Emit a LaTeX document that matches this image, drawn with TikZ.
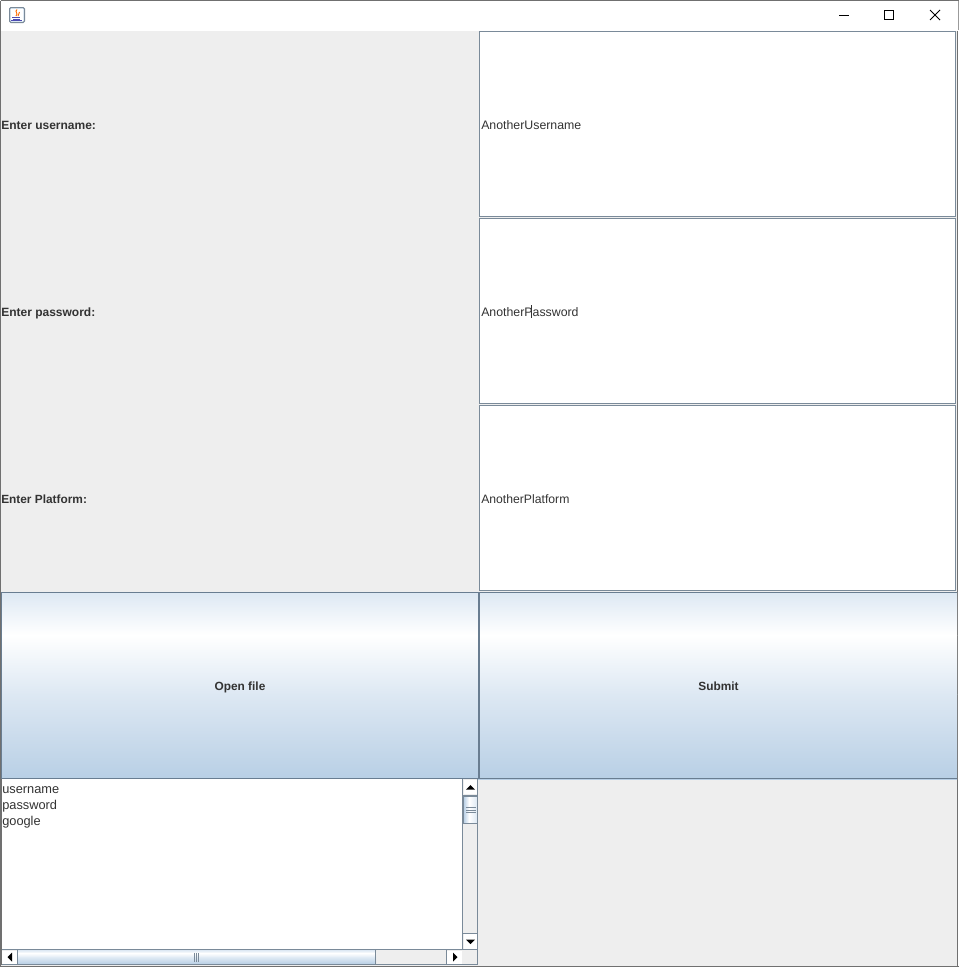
\documentclass[tikz,border=0pt]{standalone}
\usepackage{fontspec}
\setmainfont{Liberation Sans}
\definecolor{panelbg}{RGB}{238,238,238}
\definecolor{winedge}{RGB}{112,112,112}
\definecolor{fieldedge}{RGB}{122,138,153}
\definecolor{gradA}{RGB}{221,232,243}
\definecolor{gradC}{RGB}{184,207,229}
\definecolor{ink}{RGB}{51,51,51}
\definecolor{btnedge}{RGB}{105,125,145}
\definecolor{trackbg}{RGB}{238,238,238}
\tikzset{
  lab/.style={anchor=base west,inner sep=0pt,font=\fontsize{9}{11}\selectfont\bfseries,text=ink},
  val/.style={anchor=base west,inner sep=0pt,font=\fontsize{9.25}{11}\selectfont,text=ink},
  listval/.style={anchor=base west,inner sep=0pt,font=\fontsize{9.6}{11}\selectfont,text=ink},
  btnlab/.style={anchor=base,inner sep=0pt,font=\fontsize{8.9}{11}\selectfont\bfseries,text=ink},
  field/.style={draw=fieldedge,fill=white,line width=0.75pt},
  tip/.style={fill=black,draw=none},
  grip/.style={draw=fieldedge,line width=0.6pt},
  sbedge/.style={draw=fieldedge,line width=0.75pt},
}
\newcommand{\metalH}[4]{% x1,y1,x2,y2 vertical gradient
  \pgfmathsetmacro{\hh}{#4-(#2)}
  \pgfmathsetmacro{\ya}{#2+0.23*\hh}
  \pgfmathsetmacro{\yb}{#2+0.55*\hh}
  \fill[top color=gradA,bottom color=white] (#1,#2) rectangle (#3,\ya);
  \fill[top color=white,bottom color=gradA] (#1,\ya) rectangle (#3,\yb);
  \fill[top color=gradA,bottom color=gradC] (#1,\yb) rectangle (#3,#4);
}
\begin{document}
\begin{tikzpicture}[x=0.75pt,y=-0.75pt]
\useasboundingbox (0,0) rectangle (959,967);
% window
\fill[white] (0,0) rectangle (959,967);
\fill[panelbg] (1,31) rectangle (957,966);
\draw[winedge,line width=0.75pt] (0.5,0.5) -- (958.5,0.5);
\draw[winedge,line width=0.75pt] (0.5,0.5) -- (0.5,966.5) -- (958.5,966.5);
\draw[winedge,line width=0.75pt] (957.5,31) -- (957.5,966.5);
\draw[winedge!70,line width=0.75pt] (958.5,0.5) -- (958.5,30);
% title bar icon
\draw[fill=gradA,draw=fieldedge,rounded corners=1pt,line width=0.75pt] (9.5,7.5) rectangle (24.5,22.5);
\fill[white] (11,9) rectangle (23,21);
\draw[orange!85!red,line width=0.7pt] (17,9.5) .. controls (14,12) and (19,13) .. (16,16);
\draw[orange!85!red,line width=0.7pt] (19.5,12) .. controls (18,13) and (20,14) .. (18,16);
\draw[blue!40!gray,line width=0.7pt] (12,17) -- (20,17);
\draw[blue!40!gray,line width=0.7pt] (13,19) -- (20,19);
\draw[blue!40!gray,line width=0.7pt] (11,20.5) -- (22,20.5);
% window buttons
\draw[black,line width=0.75pt] (839,15.5) -- (849,15.5);
\draw[black,line width=0.75pt] (884.5,10.5) rectangle (893.5,19.5);
\draw[black,line width=0.75pt] (930,10) -- (940,20) (940,10) -- (930,20);
% labels
\node[lab] (userlab) at (1,129) {Enter username:};
\node[lab] (passlab) at (1,316) {Enter password:};
\node[lab,font=\fontsize{8.9}{11}\selectfont\bfseries] (platlab) at (1,503) {Enter Platform:};
% fields
\path[field] (479.5,31.5) rectangle (955.5,216.5);
\path[field] (479.5,218.5) rectangle (955.5,403.5);
\path[field] (479.5,405.5) rectangle (955.5,590.5);
\node[val] (userval) at (481,129) {AnotherUsername};
\node[val] (passval) at (481,316) {AnotherPassword};
\node[val,font=\fontsize{9.15}{11}\selectfont] (platval) at (481,503) {AnotherPlatform};
\draw[black!80,line width=0.75pt] (531.5,305) -- (531.5,318);
% buttons
\metalH{1}{592}{479}{779}
\metalH{479}{592}{957}{779}
\draw[btnedge,line width=0.9pt] (1,592.5) -- (957,592.5);
\draw[btnedge,line width=0.9pt] (1,778.5) -- (957,778.5);
\draw[btnedge,line width=1.5pt] (478.5,592) -- (478.5,779);
\draw[btnedge,line width=0.9pt] (1.5,592) -- (1.5,779);
\node[btnlab] (openbtn) at (240,690) {Open file};
\node[btnlab] (subbtn) at (718.5,690) {Submit};
% text area
\fill[white] (2,779) rectangle (463,949);
\draw[winedge,line width=0.75pt] (1.5,779) -- (1.5,965);
\node[listval] (line1) at (2,793) {username};
\node[listval] (line2) at (2,809) {password};
\node[listval] (line3) at (2,825) {google};
% vertical scrollbar
\fill[trackbg] (463,779) rectangle (478,965);
\path[sbedge] (462.5,779) -- (462.5,965);
\path[sbedge] (477.5,779) -- (477.5,965);
\fill[white] (463.5,780) rectangle (477,794);
\fill[tip] (466,789.5) -- (475,789.5) -- (470.5,785) -- cycle;
\path[sbedge] (463,795.5) -- (477,795.5);
\fill[left color=gradC,right color=white] (463.5,796) rectangle (469,823);
\fill[left color=white,right color=gradA] (469,796) rectangle (477,823);
\path[sbedge] (463,796.5) rectangle (477.5,823.5);
\draw[grip] (466,807.5) -- (476,807.5) (466,810.5) -- (476,810.5) (466,812.5) -- (476,812.5);
\fill[white] (463.5,934) rectangle (477,949);
\path[sbedge] (463,933.5) -- (477,933.5);
\fill[tip] (466,939.5) -- (475,939.5) -- (470.5,944) -- cycle;
% horizontal scrollbar
\fill[trackbg] (2,950) rectangle (463,965);
\metalH{18}{950}{376}{964}
\path[sbedge] (2,949.5) -- (477.5,949.5);
\path[sbedge] (1.5,964.5) -- (477.5,964.5);
\path[sbedge] (17.5,950) -- (17.5,964);
\path[sbedge] (375.5,950) -- (375.5,964);
\fill[white] (2,950.5) rectangle (17,964);
\fill[tip] (12,952.5) -- (12,961.5) -- (7.5,957) -- cycle;
\fill[white] (447,950.5) rectangle (462,964);
\path[sbedge] (446.5,950) -- (446.5,964);
\fill[tip] (453,952.5) -- (453,961.5) -- (457.5,957) -- cycle;
\draw[grip] (194.5,953) -- (194.5,962) (196.5,953) -- (196.5,962) (198.5,953) -- (198.5,962);
\end{tikzpicture}
\end{document}
